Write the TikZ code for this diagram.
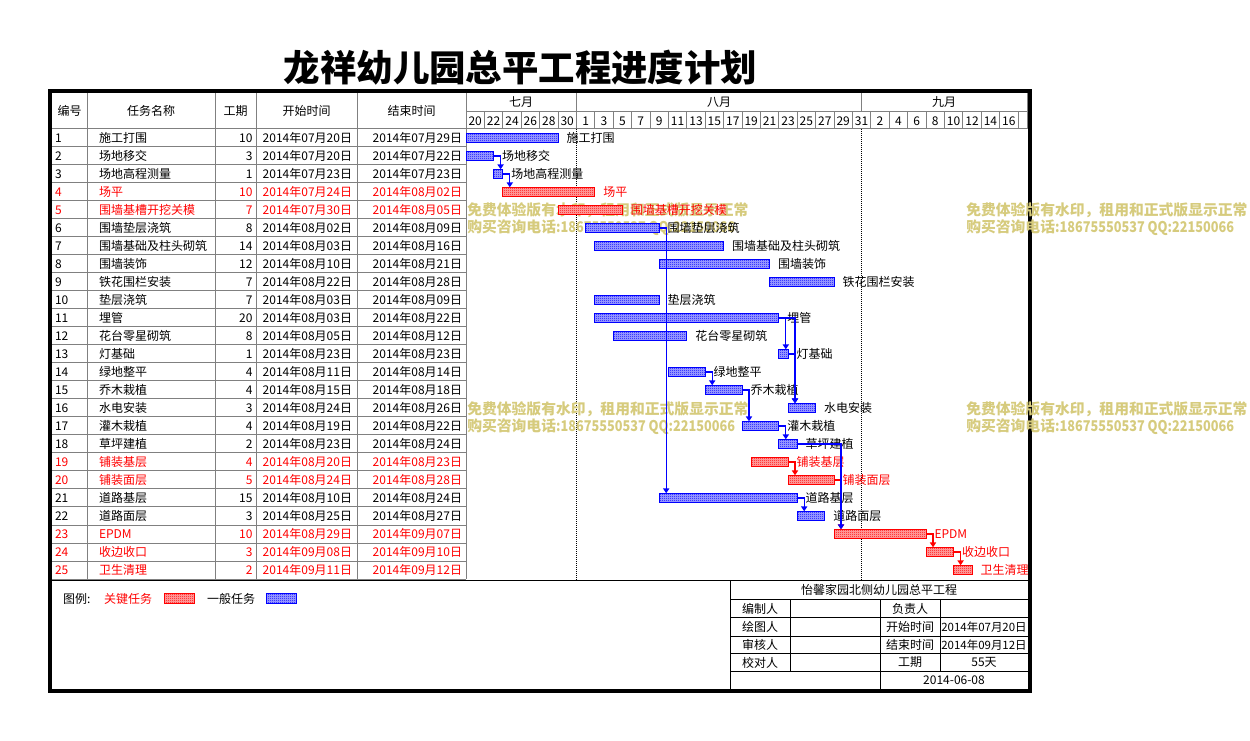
\documentclass[tikz,border=0pt]{standalone}
\usepackage{fontspec}
\usepackage{graphicx}
\setmainfont{Noto Sans CJK SC}
\usetikzlibrary{arrows.meta,patterns,calc}
\definecolor{gridc}{RGB}{128,128,128}
\definecolor{wmc}{RGB}{214,203,125}
\definecolor{tblue}{RGB}{0,0,255}
\definecolor{tred}{RGB}{255,0,0}
\definecolor{tbluebg}{RGB}{170,170,255}
\definecolor{tredbg}{RGB}{255,170,170}
\pgfdeclarepatternformonly{finechk}{\pgfpointorigin}{\pgfpoint{1.5pt}{1.5pt}}{\pgfpoint{1.5pt}{1.5pt}}{%
  \pgfpathrectangle{\pgfpointorigin}{\pgfpoint{0.75pt}{0.75pt}}%
  \pgfpathrectangle{\pgfpoint{0.75pt}{0.75pt}}{\pgfpoint{0.75pt}{0.75pt}}%
  \pgfusepath{fill}}
\newcommand\tsz{\fontsize{9pt}{10pt}\selectfont}
\newcommand\wmA{免费体验版有水印，租用和正式版显示正常}
\newcommand\wmB{购买咨询电话\scalebox{0.86}[1]{:18675550537 QQ:22150066}}
% id, start day index (Jul20=0), days, bar colour, label colour, label
\newcommand\gbar[6]{%
  \node[gb=#4, minimum width={#3*6.9pt}] (b#1) at ({466+9.2*#2},{120+18*#1}) {};
  \node[lbl, text=#5] (l#1) at ($(b#1.east)+(8.5,0)$) {#6};}
\begin{document}
\begin{tikzpicture}[x=0.75pt,y=-0.75pt,
  txt/.style={font=\tsz, inner sep=0pt, outer sep=0pt},
  lbl/.style={txt, anchor=west},
  gb/.style={draw=#1, line width=0.75pt, pattern=finechk, pattern color=#1,
    preaction={fill=#1bg}, minimum height=7.1pt, inner sep=0pt, outer sep=0pt, anchor=west},
  conn/.style={draw=#1, line width=0.85pt, -{Triangle[width=4.6pt,length=3.6pt]}},
  gline/.style={draw=gridc, line width=0.75pt},
  bline/.style={draw=black, line width=0.75pt},
  wm/.style={font=\fontsize{11.1pt}{12pt}\selectfont\bfseries, text=wmc, inner sep=0pt, anchor=west},
]
\useasboundingbox (0,0) rectangle (1250,741);

% title
\node[inner sep=0pt, font=\fontsize{27.3pt}{30pt}\selectfont\bfseries] (title) at (520.5,67.5) {龙祥幼儿园总平工程进度计划};

% table grid
\foreach \xx in {87,215,256,357,466} \draw[gline] (\xx,93) -- (\xx,579);
\foreach \k in {0,...,25} \draw[gline] (52,{129+18*\k}) -- (466,{129+18*\k});
% gantt header grid
\draw[gline] (466,129) -- (1027,129);
\draw[gline] (466,112) -- (1027,112);
\draw[gline] (1027,93) -- (1027,129);
\foreach \k in {1,...,30} \draw[gline] ({466+18.4*\k},112) -- ({466+18.4*\k},129);
\draw[gline] (576.4,93) -- (576.4,112);
\draw[gline] (861.6,93) -- (861.6,112);

% header texts
\node[txt] (h1) at (69.5,111) {编号};
\node[txt] (h2) at (151,111) {任务名称};
\node[txt] (h3) at (235.5,111) {工期};
\node[txt] (h4) at (306.5,111) {开始时间};
\node[txt] (h5) at (411.5,111) {结束时间};
\node[txt] (m7) at (521,102.5) {七月};
\node[txt] (m8) at (719,102.5) {八月};
\node[txt] (m9) at (944,102.5) {九月};
\foreach \d [count=\k from 0] in {20,22,24,26,28,30,1,3,5,7,9,11,13,15,17,19,21,23,25,27,29,31,2,4,6,8,10,12,14,16}
  \node[txt] (d\k) at ({466+18.4*(\k+0.5)},121) {\d};

% table rows
\foreach \i/\nm/\du/\st/\en/\cc in {
 1/施工打围/10/07月20/07月29/black,
 2/场地移交/3/07月20/07月22/black,
 3/场地高程测量/1/07月23/07月23/black,
 4/场平/10/07月24/08月02/tred,
 5/围墙基槽开挖关模/7/07月30/08月05/tred,
 6/围墙垫层浇筑/8/08月02/08月09/black,
 7/围墙基础及柱头砌筑/14/08月03/08月16/black,
 8/围墙装饰/12/08月10/08月21/black,
 9/铁花围栏安装/7/08月22/08月28/black,
 10/垫层浇筑/7/08月03/08月09/black,
 11/埋管/20/08月03/08月22/black,
 12/花台零星砌筑/8/08月05/08月12/black,
 13/灯基础/1/08月23/08月23/black,
 14/绿地整平/4/08月11/08月14/black,
 15/乔木栽植/4/08月15/08月18/black,
 16/水电安装/3/08月24/08月26/black,
 17/灌木栽植/4/08月19/08月22/black,
 18/草坪建植/2/08月23/08月24/black,
 19/铺装基层/4/08月20/08月23/tred,
 20/铺装面层/5/08月24/08月28/tred,
 21/道路基层/15/08月10/08月24/black,
 22/道路面层/3/08月25/08月27/black,
 23/EPDM/10/08月29/09月07/tred,
 24/收边收口/3/09月08/09月10/tred,
 25/卫生清理/2/09月11/09月12/tred}{
  \node[txt, anchor=west, text=\cc] (n\i) at (55,{120+18*\i}) {\i};
  \node[txt, anchor=west, text=\cc] (t\i) at (99,{120+18*\i}) {\nm};
  \node[txt, anchor=east, text=\cc] (du\i) at (252.5,{120+18*\i}) {\du};
  \node[txt, anchor=east, text=\cc] (s\i) at (352,{120+18*\i}) {2014年\st 日};
  \node[txt, anchor=east, text=\cc] (e\i) at (462,{120+18*\i}) {2014年\en 日};
}

% month boundaries
\draw[black, line width=0.75pt, dash pattern=on 0.75pt off 0.75pt] (576.4,129) -- (576.4,580);
\draw[black, line width=0.75pt, dash pattern=on 0.75pt off 0.75pt] (861.6,129) -- (861.6,580);

% bottom section
\draw[bline] (52,580.5) -- (1028,580.5);
\draw[bline] (730.5,580.5) -- (730.5,689);
\foreach \yy in {599.3,617.7,636,653.7,671.3} \draw[bline] (730.5,\yy) -- (1028,\yy);
\draw[bline] (790.7,599.3) -- (790.7,671.3);
\draw[bline] (880.3,599.3) -- (880.3,689);
\draw[bline] (940,599.3) -- (940,671.3);
\node[txt] (tb0) at (879,590) {怡馨家园北侧幼儿园总平工程};
\node[txt] (tb1) at (760,608.5) {编制人};
\node[txt] (tb2) at (910,608.5) {负责人};
\node[txt] (tb3) at (760,627) {绘图人};
\node[txt] (tb4) at (910,627) {开始时间};
\node[txt, font=\fontsize{8.6pt}{10pt}\selectfont] (tb5) at (984,627) {2014年07月20日};
\node[txt] (tb6) at (760,645) {审核人};
\node[txt] (tb7) at (910,645) {结束时间};
\node[txt, font=\fontsize{8.6pt}{10pt}\selectfont] (tb8) at (984,645) {2014年09月12日};
\node[txt] (tb9) at (760,662.5) {校对人};
\node[txt] (tb10) at (910,662.5) {工期};
\node[txt] (tb11) at (984,662.5) {55天};
\node[txt] (tb12) at (954,680) {2014-06-08};

% legend
\node[txt, anchor=west] (lg0) at (63,599) {图例:};
\node[txt, anchor=west, text=tred] (lg1) at (104,599) {关键任务};
\node[gb=tred, minimum width=22.5pt] (lgr) at (164,598.5) {};
\node[txt, anchor=west] (lg2) at (207,599) {一般任务};
\node[gb=tblue, minimum width=22.5pt] (lgb) at (266,598.5) {};

% outer frame
\draw[line width=3pt] (50,91) rectangle (1030,691);

% watermarks
\node[wm] (w1) at (467,210) {\wmA};
\node[wm] (w2) at (467,227.5) {\wmB};
\node[wm] (w3) at (966,210) {\wmA};
\node[wm] (w4) at (966,227.5) {\wmB};
\node[wm] (w5) at (467,409) {\wmA};
\node[wm] (w6) at (467,426.5) {\wmB};
\node[wm] (w7) at (966,409) {\wmA};
\node[wm] (w8) at (966,426.5) {\wmB};

% bars
\gbar{1}{0}{10}{tblue}{black}{施工打围}
\gbar{2}{0}{3}{tblue}{black}{场地移交}
\gbar{3}{3}{1}{tblue}{black}{场地高程测量}
\gbar{4}{4}{10}{tred}{tred}{场平}
\gbar{5}{10}{7}{tred}{tred}{围墙基槽开挖关模}
\gbar{6}{13}{8}{tblue}{black}{围墙垫层浇筑}
\gbar{7}{14}{14}{tblue}{black}{围墙基础及柱头砌筑}
\gbar{8}{21}{12}{tblue}{black}{围墙装饰}
\gbar{9}{33}{7}{tblue}{black}{铁花围栏安装}
\gbar{10}{14}{7}{tblue}{black}{垫层浇筑}
\gbar{11}{14}{20}{tblue}{black}{埋管}
\gbar{12}{16}{8}{tblue}{black}{花台零星砌筑}
\gbar{13}{34}{1}{tblue}{black}{灯基础}
\gbar{14}{22}{4}{tblue}{black}{绿地整平}
\gbar{15}{26}{4}{tblue}{black}{乔木栽植}
\gbar{16}{35}{3}{tblue}{black}{水电安装}
\gbar{17}{30}{4}{tblue}{black}{灌木栽植}
\gbar{18}{34}{2}{tblue}{black}{草坪建植}
\gbar{19}{31}{4}{tred}{tred}{铺装基层}
\gbar{20}{35}{5}{tred}{tred}{铺装面层}
\gbar{21}{21}{15}{tblue}{black}{道路基层}
\gbar{22}{36}{3}{tblue}{black}{道路面层}
\gbar{23}{40}{10}{tred}{tred}{EPDM}
\gbar{24}{50}{3}{tred}{tred}{收边收口}
\gbar{25}{53}{2}{tred}{tred}{卫生清理}

% dependencies
\draw[conn=tblue] (b2.east) -| ($(b3.north west)+(7,0)$);
\draw[conn=tblue] (b3.east) -| ($(b4.north west)+(7,0)$);
\draw[conn=tblue] (b6.east) -| ($(b21.north west)+(7,0)$);
\draw[conn=tblue] (b11.east) -| ($(b13.north west)+(7,0)$);
\draw[conn=tblue] (b11.east) -| ($(b16.north west)+(7,0)$);
\draw[conn=tblue] (b13.east) -| ($(b16.north west)+(7,0)$);
\draw[conn=tblue] (b14.east) -| ($(b15.north west)+(7,0)$);
\draw[conn=tblue] (b15.east) -| ($(b17.north west)+(7,0)$);
\draw[conn=tblue] (b17.east) -| ($(b18.north west)+(7,0)$);
\draw[conn=tred] (b19.east) -| ($(b20.north west)+(7,0)$);
\draw[conn=tred] (b20.east) -| ($(b23.north west)+(7,0)$);
\draw[conn=tblue] (b18.east) -| ($(b23.north west)+(7,0)$);
\draw[conn=tblue] (b21.east) -| ($(b22.north west)+(7,0)$);
\draw[conn=tred] (b23.east) -| ($(b24.north west)+(7,0)$);
\draw[conn=tred] (b24.east) -| ($(b25.north west)+(7,0)$);
\end{tikzpicture}
\end{document}
